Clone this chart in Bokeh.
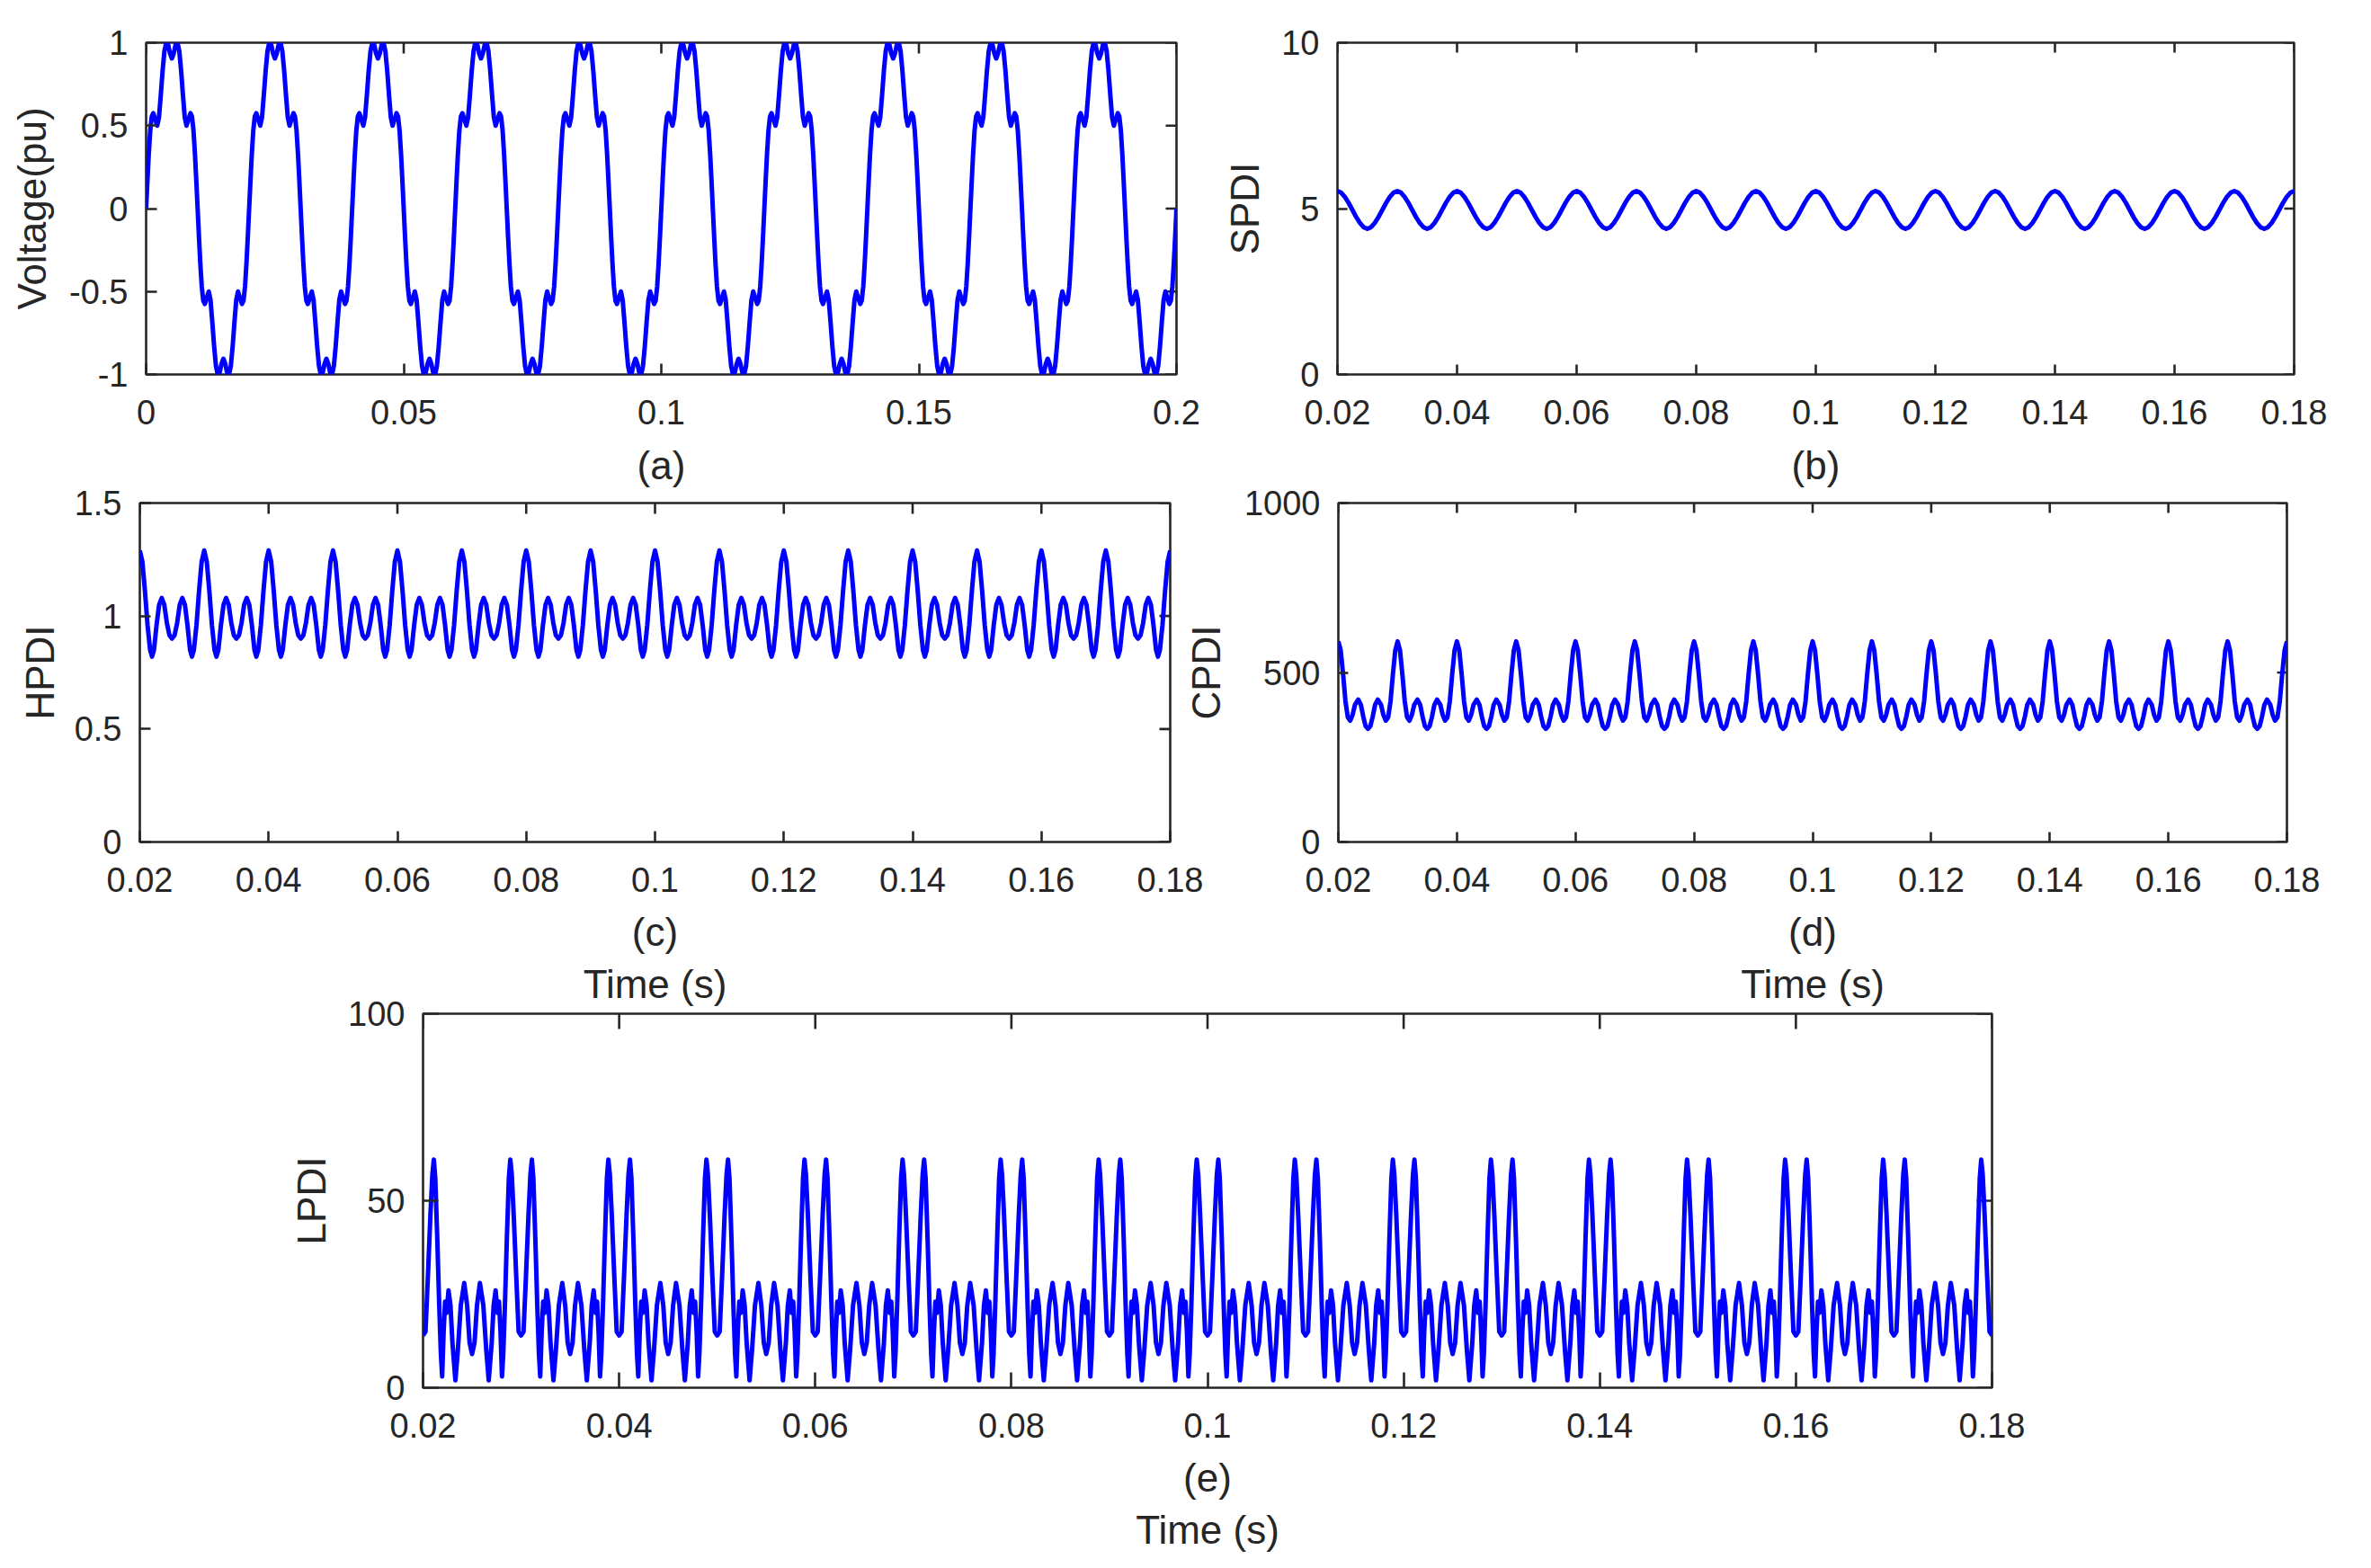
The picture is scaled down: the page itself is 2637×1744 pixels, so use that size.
import numpy as np
from bokeh.plotting import figure
from bokeh.models import Range1d, FixedTicker, CustomJSTickFormatter, Row, Column
from bokeh.embed import file_html
from bokeh.resources import INLINE

# ------------------------------------------------------------------
# DATA: one period of each trace
# (phase = fraction of one period, value = reading); traces repeat.
# ------------------------------------------------------------------
volt_period = 0.02
volt_start, volt_end = 0.0, 0.2
volt_phase = [0.000, 0.013, 0.026, 0.040, 0.055, 0.070, 0.088, 0.108, 0.125, 0.142,
              0.160, 0.178, 0.192, 0.203, 0.215, 0.232, 0.250, 0.268, 0.285, 0.297,
              0.308, 0.322, 0.340, 0.358, 0.375, 0.392, 0.412, 0.430, 0.445, 0.460,
              0.474, 0.487, 0.500, 0.513, 0.526, 0.540, 0.555, 0.570, 0.588, 0.608,
              0.625, 0.642, 0.660, 0.678, 0.692, 0.703, 0.715, 0.732, 0.750, 0.768,
              0.785, 0.797, 0.808, 0.822, 0.840, 0.858, 0.875, 0.892, 0.912, 0.930,
              0.945, 0.960, 0.974, 0.987]
volt_vals = [0.0, 0.17, 0.33, 0.47, 0.555, 0.575, 0.54, 0.50, 0.55, 0.68,
             0.83, 0.95, 0.99, 1.0, 0.985, 0.935, 0.905, 0.935, 0.985, 1.0,
             0.99, 0.95, 0.83, 0.68, 0.55, 0.50, 0.54, 0.575, 0.555, 0.47,
             0.33, 0.17, 0.0, -0.17, -0.33, -0.47, -0.555, -0.575, -0.54, -0.50,
             -0.55, -0.68, -0.83, -0.95, -0.99, -1.0, -0.985, -0.935, -0.905, -0.935,
             -0.985, -1.0, -0.99, -0.95, -0.83, -0.68, -0.55, -0.50, -0.54, -0.575,
             -0.555, -0.47, -0.33, -0.17]

idx_period = 0.01
idx_start, idx_end = 0.02, 0.18

spdi_phase = [0.0, 0.0625, 0.125, 0.1875, 0.25, 0.3125, 0.375, 0.4375,
              0.5, 0.5625, 0.625, 0.6875, 0.75, 0.8125, 0.875, 0.9375]
spdi_vals = [5.53, 5.48, 5.35, 5.17, 4.96, 4.75, 4.57, 4.44,
             4.39, 4.44, 4.57, 4.75, 4.96, 5.17, 5.35, 5.48]

hpdi_phase = [0.0, 0.04, 0.08, 0.12, 0.16, 0.19, 0.22, 0.26, 0.30, 0.34, 0.38, 0.42, 0.46,
              0.50, 0.54, 0.58, 0.62, 0.66, 0.70, 0.74, 0.78, 0.81, 0.84, 0.88, 0.92, 0.96]
hpdi_vals = [1.29, 1.24, 1.11, 0.96, 0.85, 0.82, 0.85, 0.96, 1.05, 1.08, 1.05, 0.97, 0.915,
             0.90, 0.915, 0.97, 1.05, 1.08, 1.05, 0.96, 0.85, 0.82, 0.85, 0.96, 1.11, 1.24]

cpdi_phase = [0.0, 0.04, 0.08, 0.12, 0.16, 0.20, 0.24, 0.28, 0.335, 0.38, 0.42, 0.46,
              0.50, 0.54, 0.58, 0.62, 0.665, 0.72, 0.76, 0.80, 0.84, 0.88, 0.92, 0.96]
cpdi_vals = [592, 565, 495, 415, 368, 358, 375, 405, 420, 405, 370, 342,
             334, 342, 370, 405, 420, 405, 375, 358, 368, 415, 495, 565]

lpdi_phase = [0.0, 0.025, 0.05, 0.075, 0.095, 0.11, 0.125, 0.145, 0.165, 0.182, 0.195, 0.21,
              0.225, 0.24, 0.26, 0.28, 0.30, 0.33, 0.355, 0.385, 0.42, 0.45, 0.475,
              0.50, 0.525, 0.55, 0.58, 0.615, 0.645, 0.67, 0.70, 0.72, 0.74, 0.76,
              0.775, 0.79, 0.805, 0.818, 0.835, 0.855, 0.875, 0.89, 0.905, 0.925, 0.95, 0.975]
lpdi_vals = [14, 15, 30, 46, 57, 61, 56, 40, 22, 9, 3, 15,
             23, 20, 26, 22, 12, 2, 10, 22, 28, 22, 12,
             9, 12, 22, 28, 22, 10, 2, 12, 22, 26, 20,
             23, 15, 3, 9, 22, 40, 56, 61, 57, 46, 30, 15]

volt_xticks = [0, 0.05, 0.1, 0.15, 0.2]
volt_yticks = [-1, -0.5, 0, 0.5, 1]
idx_xticks = [0.02, 0.04, 0.06, 0.08, 0.1, 0.12, 0.14, 0.16, 0.18]
spdi_yticks = [0, 5, 10]
hpdi_yticks = [0, 0.5, 1, 1.5]
cpdi_yticks = [0, 500, 1000]
lpdi_yticks = [0, 50, 100]


def tile(phase, vals, period, start, end):
    n = int(round((end - start) / period))
    t, v = [], []
    for k in range(n):
        for f, y in zip(phase, vals):
            t.append(start + (k + f) * period)
            v.append(y)
    t.append(end)
    v.append(vals[0])
    return t, v


INK = "#262626"
FONT = "Liberation Sans"
FMT = "return String(parseFloat(tick.toFixed(6)));"


def make_fig(box, frame, xr, yr, xticks, yticks, ylabel, xlabel, tick_len,
             t, v, ylab_standoff, xlab_standoff, margin=(0, 0, 0, 0)):
    ox, oy, w, h = box
    fl, ft, fr, fb = frame
    p = figure(width=w, height=h, x_range=Range1d(*xr), y_range=Range1d(*yr),
               output_backend="svg", toolbar_location=None,
               min_border_left=fl - ox, min_border_right=ox + w - fr,
               min_border_top=ft - oy, min_border_bottom=oy + h - fb,
               margin=margin)
    p.border_fill_alpha = 0
    p.background_fill_color = "white"
    p.outline_line_color = INK
    p.outline_line_width = 2.6
    p.xgrid.visible = False
    p.ygrid.visible = False
    p.xaxis.ticker = FixedTicker(ticks=xticks)
    p.yaxis.ticker = FixedTicker(ticks=yticks)
    for ax in (p.xaxis[0], p.yaxis[0]):
        ax.axis_line_color = None
        ax.major_tick_line_color = INK
        ax.major_tick_line_width = 2.6
        ax.major_tick_in = tick_len
        ax.major_tick_out = 0
        ax.minor_tick_line_color = None
        ax.formatter = CustomJSTickFormatter(code=FMT)
        ax.major_label_text_font = FONT
        ax.major_label_text_color = INK
        ax.major_label_text_font_size = "38px"
        ax.axis_label_text_font = FONT
        ax.axis_label_text_font_style = "normal"
        ax.axis_label_text_font_size = "44px"
        ax.axis_label_text_color = INK
    bx = p.xaxis[0]
    bx.major_label_standoff = 28
    bx.axis_label = xlabel
    bx.axis_label_standoff = xlab_standoff
    bx.axis_label_text_line_height = 1.2
    ly = p.yaxis[0]
    ly.major_label_standoff = 20
    ly.axis_label = ylabel
    ly.axis_label_standoff = ylab_standoff
    # mirrored inward ticks on the top and right edges (half clipped by the frame)
    p.scatter(xticks, [yr[1]] * len(xticks), marker="dash", angle=np.pi / 2,
              size=2 * tick_len, line_color=INK, line_width=2.6)
    p.scatter([xr[1]] * len(yticks), yticks, marker="dash",
              size=2 * tick_len, line_color=INK, line_width=2.6)
    p.line(t, v, line_color="#0000ff", line_width=5, line_join="round")
    return p


ta, va = tile(volt_phase, volt_vals, volt_period, volt_start, volt_end)
tb, vb = tile(spdi_phase, spdi_vals, idx_period, idx_start, idx_end)
tc, vc = tile(hpdi_phase, hpdi_vals, idx_period, idx_start, idx_end)
td, vd = tile(cpdi_phase, cpdi_vals, idx_period, idx_start, idx_end)
te, ve = tile(lpdi_phase, lpdi_vals, idx_period, idx_start, idx_end)

pa = make_fig((0, 0, 1340, 560), (162, 44, 1308, 416), (0, 0.2), (-1, 1),
              volt_xticks, volt_yticks, "Voltage(pu)", "(a)", 12, ta, va, 14, 18)
pb = make_fig((1340, 0, 1290, 560), (1487, 47, 2551, 417), (0.02, 0.18), (0, 10),
              idx_xticks, spdi_yticks, "SPDI", "(b)", 11, tb, vb, 13, 18)
pc = make_fig((0, 525, 1340, 599), (155, 553, 1301, 936), (0.02, 0.18), (0, 1.5),
              idx_xticks, hpdi_yticks, "HPDI", "(c)\nTime (s)", 12, tc, vc, 11, 17)
pd_ = make_fig((1300, 525, 1330, 599), (1488, 559, 2543, 936), (0.02, 0.18), (0, 1000),
               idx_xticks, cpdi_yticks, "CPDI", "(d)\nTime (s)", 11, td, vd, 15, 17,
               margin=(0, 0, 0, -40))
pe = make_fig((0, 1104, 2630, 636), (470, 1127, 2215, 1543), (0.02, 0.18), (0, 100),
              idx_xticks, lpdi_yticks, "LPDI", "(e)\nTime (s)", 17, te, ve, 13, 17,
              margin=(-20, 0, 0, 0))

row1 = Row(children=[pa, pb], spacing=0)
row2 = Row(children=[pc, pd_], spacing=0, margin=(-35, 0, 0, 0))
layout = Column(children=[row1, row2, pe], spacing=0)

open("out.html", "w").write(file_html(layout, INLINE))
